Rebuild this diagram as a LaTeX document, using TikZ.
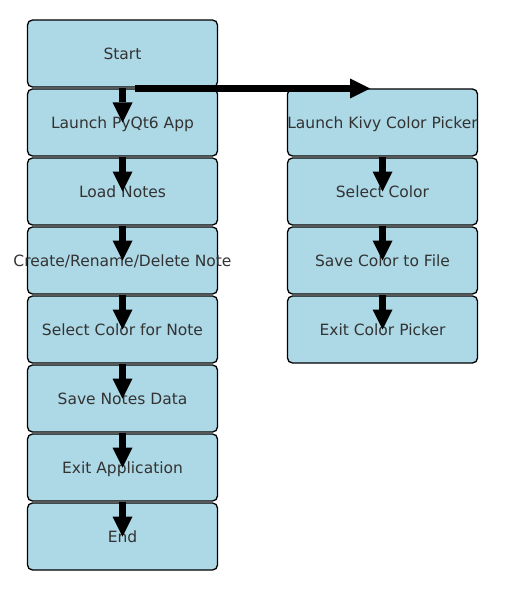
\documentclass[tikz,border=0pt]{standalone}
\usepackage{fontspec}
\setmainfont{DejaVu Sans}
\usetikzlibrary{arrows.meta}
\definecolor{boxblue}{HTML}{ADD8E6}
\definecolor{txt}{HTML}{333333}
\newcommand{\boxtext}[1]{\makebox[0pt][c]{#1}}
\tikzset{
  stepbox/.style={draw=black, fill=boxblue, line width=1.3pt, rounded corners=5pt,
    minimum width=190pt, minimum height=67pt, inner sep=0pt, text=txt,
    text height=12.5pt, text depth=0.5pt,
    font=\fontsize{15.5}{19}\selectfont},
  flow/.style={draw=black, line width=7.5pt,
    -{Triangle[width=20pt,length=20pt,line width=0pt]}, shorten >=0pt}
}
\begin{document}
\begin{tikzpicture}[x=1pt,y=-1pt]
\useasboundingbox (0,0) rectangle (508,591);
\node[stepbox] (start)  at (122.5,53.5)  {\boxtext{Start}};
\node[stepbox] (pyqt)   at (122.5,122.5) {\boxtext{Launch PyQt6 App}};
\node[stepbox] (load)   at (122.5,191.5) {\boxtext{Load Notes}};
\node[stepbox] (crud)   at (122.5,260.5) {\boxtext{Create/Rename/Delete Note}};
\node[stepbox] (selc)   at (122.5,329.5) {\boxtext{Select Color for Note}};
\node[stepbox] (save)   at (122.5,398.5) {\boxtext{Save Notes Data}};
\node[stepbox] (exitapp) at (122.5,467.5) {\boxtext{Exit Application}};
\node[stepbox] (end)    at (122.5,536.5) {\boxtext{End}};
\node[stepbox] (kivy)   at (382.5,122.5) {\boxtext{Launch Kivy Color Picker}};
\node[stepbox] (kselc)  at (382.5,191.5) {\boxtext{Select Color}};
\node[stepbox] (ksave)  at (382.5,260.5) {\boxtext{Save Color to File}};
\node[stepbox] (kexit)  at (382.5,329.5) {\boxtext{Exit Color Picker}};
\coordinate (hs) at (135,88.5);
\coordinate (he) at (370,88.5);
\draw[flow] (start.south) -- (pyqt.center);
\draw[flow] (pyqt.south) -- (load.center);
\draw[flow] (load.south) -- (crud.center);
\draw[flow] (crud.south) -- (selc.center);
\draw[flow] (selc.south) -- (save.center);
\draw[flow] (save.south) -- (exitapp.center);
\draw[flow] (exitapp.south) -- (end.center);
\draw[flow] (kivy.south) -- (kselc.center);
\draw[flow] (kselc.south) -- (ksave.center);
\draw[flow] (ksave.south) -- (kexit.center);
\draw[flow] (hs) -- (he);
\end{tikzpicture}
\end{document}
